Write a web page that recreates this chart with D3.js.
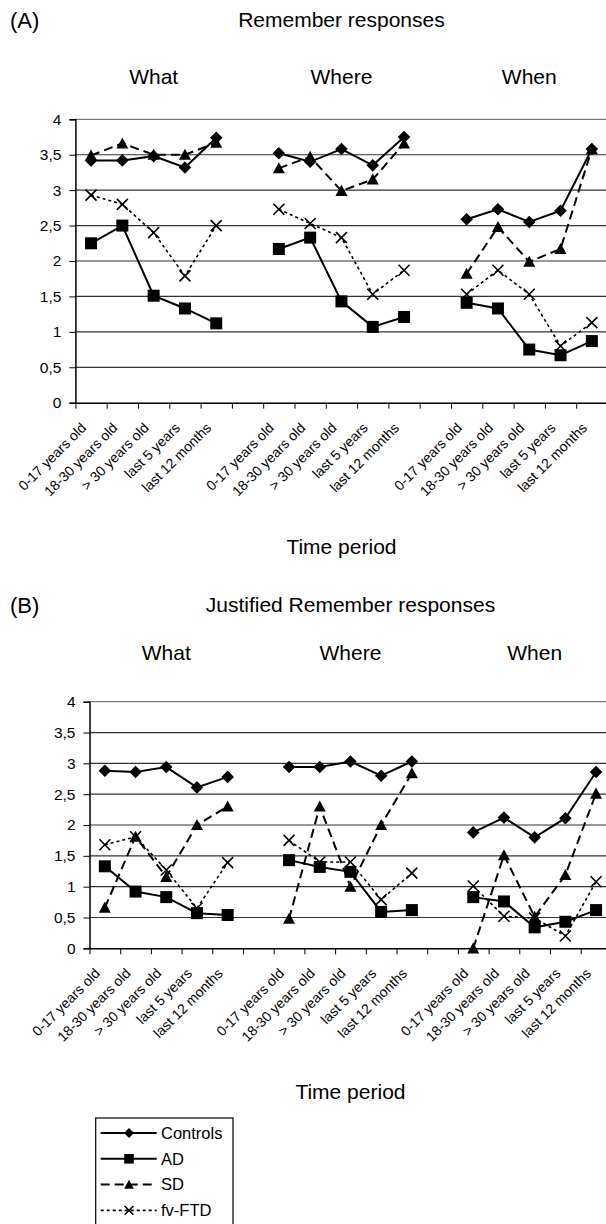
<!DOCTYPE html>
<html>
<head>
<meta charset="utf-8">
<script src="https://cdn.jsdelivr.net/npm/d3@7"></script>
<style>
  body { margin: 0; background: #fff; }
  svg { display: block; font-family: "Liberation Sans", Arial, sans-serif; }
</style>
</head>
<body>
<div id="chart"></div>
<script>
// categories
const periods = ["0-17 years old", "18-30 years old", "> 30 years old", "last 5 years", "last 12 months"];
const dims = ["What", "Where", "When"];
const groups = ["Controls", "AD", "SD", "fv-FTD"];
const yTicks = [0, 0.5, 1, 1.5, 2, 2.5, 3, 3.5, 4];

// (A) Remember responses: What x5, Where x5, When x5
const remControls = [3.42, 3.42, 3.48, 3.32, 3.74,  3.52, 3.40, 3.58, 3.35, 3.75,  2.59, 2.73, 2.55, 2.71, 3.58];
const remAD       = [2.25, 2.50, 1.51, 1.33, 1.12,  2.17, 2.33, 1.43, 1.07, 1.21,  1.41, 1.33, 0.75, 0.67, 0.87];
const remSD       = [3.49, 3.66, 3.50, 3.50, 3.67,  3.31, 3.47, 2.99, 3.15, 3.66,  1.82, 2.48, 1.99, 2.17, 3.58];
const remFTD      = [2.93, 2.80, 2.40, 1.79, 2.50,  2.73, 2.53, 2.33, 1.53, 1.87,  1.53, 1.87, 1.53, 0.80, 1.13];

// (B) Justified Remember responses
const jusControls = [2.88, 2.86, 2.94, 2.61, 2.78,  2.94, 2.94, 3.03, 2.80, 3.03,  1.88, 2.12, 1.80, 2.11, 2.86];
const jusAD       = [1.33, 0.92, 0.83, 0.57, 0.54,  1.43, 1.32, 1.24, 0.59, 0.62,  0.83, 0.76, 0.34, 0.43, 0.62];
const jusSD       = [0.66, 1.81, 1.16, 2.00, 2.30,  0.48, 2.30, 1.00, 2.00, 2.84,  0.00, 1.51, 0.51, 1.19, 2.51];
const jusFTD      = [1.68, 1.81, 1.27, 0.65, 1.39,  1.75, 1.40, 1.40, 0.79, 1.22,  1.01, 0.52, 0.49, 0.20, 1.08];

const W = 606, H = 1224;
const svg = d3.select("#chart").append("svg")
    .attr("width", W).attr("height", H);

// line style per group
const styles = {
  "Controls": {dash: null, width: 2, marker: "diamond"},
  "AD":       {dash: null, width: 2, marker: "square"},
  "SD":       {dash: "9,5", width: 2, marker: "triangle"},
  "fv-FTD":   {dash: "3,3", width: 1.6, marker: "cross"}
};

function marker(g, type, x, y, s) {
  s = s || 1;
  if (type == "diamond") {
    var r = 6.3 * s;
    g.append("path").attr("d", `M${x},${y - r}L${x + r},${y}L${x},${y + r}L${x - r},${y}Z`).attr("fill", "#000");
  } else if (type == "square") {
    var h = 6 * s;
    g.append("rect").attr("x", x - h).attr("y", y - h).attr("width", 2 * h).attr("height", 2 * h).attr("fill", "#000");
  } else if (type == "triangle") {
    var t = 6 * s;
    g.append("path").attr("d", `M${x},${y - t}L${x + t},${y + t * 0.85}L${x - t},${y + t * 0.85}Z`).attr("fill", "#000");
  } else {
    var c = 5.5 * s;
    g.append("path").attr("d", `M${x - c},${y - c}L${x + c},${y + c}M${x - c},${y + c}L${x + c},${y - c}`)
      .attr("stroke", "#000").attr("stroke-width", 1.6).attr("fill", "none");
  }
}

function drawPanel(p) {
  var slots = 17;
  var xs = d3.scaleLinear().domain([0, slots]).range([p.left, p.right]);
  var y = d3.scaleLinear().domain([0, 4]).range([p.bottom, p.top]);
  var g = svg.append("g");

  // slot index of each value (one blank slot between dimensions)
  function slotOf(i) { return Math.floor(i / 5) * 6 + (i % 5) + 0.5; }

  g.append("text").attr("x", 10).attr("y", p.titleY).attr("dy", "0.35em")
    .attr("font-size", 22).text(p.letter);
  g.append("text").attr("x", (p.left + p.right) / 2).attr("y", p.titleY).attr("dy", "0.35em")
    .attr("text-anchor", "middle").attr("font-size", 21).text(p.title);

  dims.forEach(function(d, k) {
    g.append("text").attr("x", xs(k * 6 + 2.5)).attr("y", p.subY).attr("dy", "0.35em")
      .attr("text-anchor", "middle").attr("font-size", 21).text(d);
  });

  // gridlines
  g.selectAll(".grid").data(yTicks.filter(d => d > 0)).enter().append("line")
    .attr("x1", p.left).attr("x2", p.right)
    .attr("y1", d => y(d)).attr("y2", d => y(d))
    .attr("stroke", d => d == 4 ? "#777" : "#333").attr("stroke-width", 1.2);

  // y axis
  var ya = g.append("g").attr("transform", `translate(${p.left},0)`)
    .call(d3.axisLeft(y).tickValues(yTicks).tickSize(6).tickPadding(8)
      .tickFormat(d => String(d).replace(".", ",")));
  ya.select(".domain").attr("stroke-width", 1.5);
  ya.selectAll("text").attr("font-size", 15.5).attr("font-family", "Liberation Sans, Arial, sans-serif");

  // x axis with ticks at slot boundaries
  var xa = g.append("g").attr("transform", `translate(0,${p.bottom})`)
    .call(d3.axisBottom(xs).tickValues(d3.range(slots + 1)).tickSize(6).tickSizeOuter(0).tickFormat(""));
  xa.select(".domain").attr("stroke-width", 1.5);

  // rotated category labels
  for (var i = 0; i < 15; i++) {
    var cx = xs(slotOf(i));
    g.append("text")
      .attr("transform", `translate(${cx - 4},${p.bottom + 26}) rotate(-45)`)
      .attr("text-anchor", "end").attr("font-size", 14)
      .text(periods[i % 5]);
  }

  g.append("text").attr("x", (p.left + p.right) / 2).attr("y", p.axisTitleY).attr("dy", "0.35em")
    .attr("text-anchor", "middle").attr("font-size", 21).text("Time period");

  // series
  groups.forEach(function(name, gi) {
    var vals = p.series[gi];
    var st = styles[name];
    var line = d3.line().x(d => xs(d.s)).y(d => y(d.v));
    for (var k = 0; k < 3; k++) {
      var pts = vals.slice(k * 5, k * 5 + 5).map((v, j) => ({s: slotOf(k * 5 + j), v: v}));
      g.append("path").datum(pts).attr("d", line)
        .attr("fill", "none").attr("stroke", "#000")
        .attr("stroke-width", st.width)
        .attr("stroke-dasharray", st.dash);
      pts.forEach(d => marker(g, st.marker, xs(d.s), y(d.v)));
    }
  });
}

drawPanel({
  letter: "(A)", title: "Remember responses",
  titleY: 20, subY: 77, top: 119.3, bottom: 402.7, axisTitleY: 547,
  left: 75.4, right: 607.5,
  series: [remControls, remAD, remSD, remFTD]
});

drawPanel({
  letter: "(B)", title: "Justified Remember responses",
  titleY: 605, subY: 653, top: 701.7, bottom: 948.3, axisTitleY: 1092,
  left: 89.5, right: 611.4,
  series: [jusControls, jusAD, jusSD, jusFTD]
});

// legend
var lg = svg.append("g");
lg.append("rect").attr("x", 95.7).attr("y", 1118).attr("width", 137.3).attr("height", 120)
  .attr("fill", "none").attr("stroke", "#000").attr("stroke-width", 1.2);
var legItems = lg.selectAll(".legend").data(groups).enter().append("g")
  .attr("class", "legend")
  .attr("transform", (d, i) => `translate(0,${1133 + i * 25.8})`);
legItems.append("line").attr("x1", 100.7).attr("x2", 156.7)
  .attr("stroke", "#000").attr("stroke-width", d => styles[d].width)
  .attr("stroke-dasharray", d => styles[d].dash);
legItems.each(function(d) { marker(d3.select(this), styles[d].marker, 129, 0, 0.8); });
legItems.append("text").attr("x", 161).attr("dy", "0.35em").attr("font-size", 16.5).text(d => d);
</script>
</body>
</html>
